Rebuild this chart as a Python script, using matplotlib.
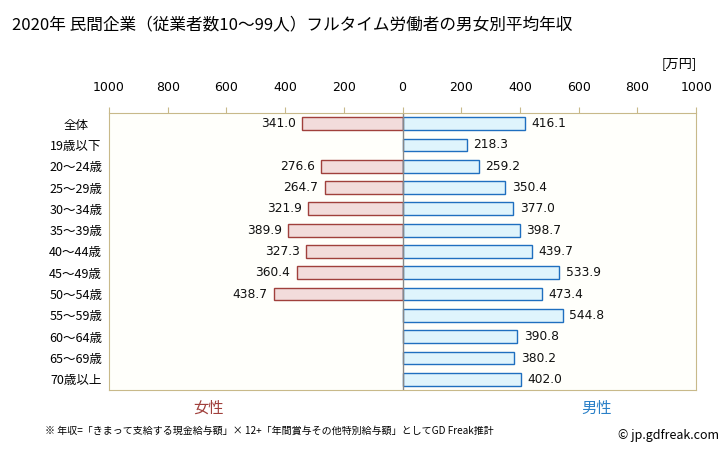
import matplotlib
matplotlib.use("Agg")
import numpy as np
from matplotlib import pyplot as plt

plt.rcParams['font.family'] = ['Noto Sans CJK JP', 'DejaVu Sans']

# データ
categories = ['全体', '19歳以下', '20～24歳', '25～29歳', '30～34歳', '35～39歳',
              '40～44歳', '45～49歳', '50～54歳', '55～59歳', '60～64歳', '65～69歳', '70歳以上']
female = [341.0, None, 276.6, 264.7, 321.9, 389.9, 327.3, 360.4, 438.7, None, None, None, None]
male = [416.1, 218.3, 259.2, 350.4, 377.0, 398.7, 439.7, 533.9, 473.4, 544.8, 390.8, 380.2, 402.0]
ticks = [-1000, -800, -600, -400, -200, 0, 200, 400, 600, 800, 1000]

fig = plt.figure(figsize=(7.28, 4.51), dpi=100)
ax = fig.add_axes([0.1497, 0.1353, 0.8066, 0.6142])
ax.set_facecolor('#fffffb')

y = np.arange(len(categories))
for i in y:
    if female[i] is not None:
        ax.barh(i, -female[i], height=0.6, color='#f2dcdb', edgecolor='#a0403c', linewidth=1)
        ax.text(-female[i] - 22, i, f'{female[i]:.1f}', ha='right', va='center', fontsize=8.8,
                family=['DejaVu Sans'], color='#111111')
    ax.barh(i, male[i], height=0.6, color='#dff4fc', edgecolor='#1f6fbf', linewidth=1)
    ax.text(male[i] + 22, i, f'{male[i]:.1f}', ha='left', va='center', fontsize=8.8,
            family=['DejaVu Sans'], color='#111111')

ax.axvline(0, color='#888888', linewidth=1)
ax.set_xlim(-1000, 1000)
ax.set_ylim(len(categories) - 0.5, -0.5)
ax.set_xticks(ticks)
ax.set_xticklabels([str(abs(t)) for t in ticks], fontsize=9, family=['DejaVu Sans'])
ax.xaxis.tick_top()
ax.tick_params(axis='x', direction='out', length=4, color='#c8b98a', pad=10)
ax.set_yticks(y)
ax.set_yticklabels(categories, fontsize=9, ha='center')
ax.tick_params(axis='y', length=0, pad=24)
for s in ax.spines.values():
    s.set_color('#c8b98a')

fig.text(0.016, 0.945, '2020年 民間企業（従業者数10～99人）フルタイム労働者の男女別平均年収',
         fontsize=12, va='center')
fig.text(0.957, 0.86, '[万円]', fontsize=9.5, ha='right', va='center')
fig.text(0.286, 0.095, '女性', fontsize=11, color='#a0403c', ha='center', va='center')
fig.text(0.82, 0.095, '男性', fontsize=11, color='#2a80c8', ha='center', va='center')
fig.text(0.062, 0.045, '※ 年収=「きまって支給する現金給与額」× 12+「年間賞与その他特別給与額」としてGD Freak推計',
         fontsize=7.2, va='center')
fig.text(0.987, 0.035, '© jp.gdfreak.com', fontsize=9, ha='right', va='center')

plt.savefig('out.png', dpi=100)
